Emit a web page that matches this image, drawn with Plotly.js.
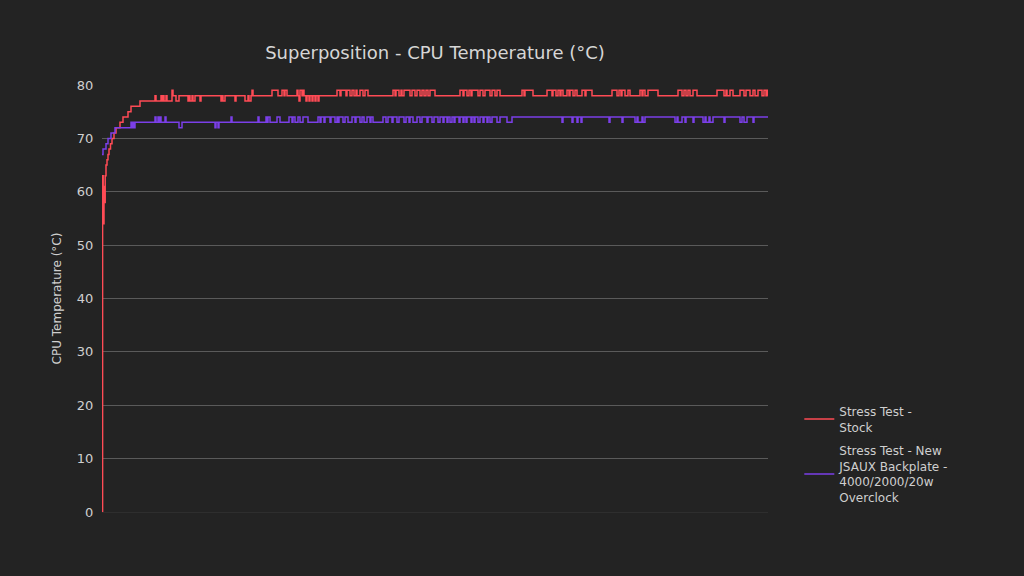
<!DOCTYPE html>
<html>
<head>
<meta charset="utf-8">
<script src="https://cdn.plot.ly/plotly-3.0.1.min.js"></script>
<style>
  html, body { margin: 0; padding: 0; background: #232323; }
  #chart { width: 1024px; height: 576px; }
</style>
</head>
<body>
<div id="chart"></div>
<script>
// Sample time (s) and CPU temperature (°C) at each change of reading
const stockTime = [
  0, 0.6, 1.2, 2, 2.6, 3.2, 4, 5, 6, 7, 8.5, 10, 12, 14, 18, 21, 26, 29, 38,
  53, 54, 59, 60, 61, 62, 64, 65, 70, 71, 74, 77, 86, 87, 88, 90, 91, 93, 98, 99,
  119, 120, 121, 123, 133, 134, 143, 146, 147, 149, 150, 151,
  170, 176, 180, 182, 183, 185,
  195, 196, 197, 198, 200, 201, 202, 204, 205, 207, 208, 210, 211, 213, 214, 216, 217,
  235, 238, 239, 244, 245, 248, 250, 252, 254, 255, 258, 261, 263, 266,
  291, 293, 294, 297, 299, 300, 302, 308, 310, 313, 315, 318, 320, 322, 324, 326, 328, 333,
  358, 361, 362, 365, 367, 369, 370, 376, 378, 381, 383, 388, 390, 393, 395, 398,
  420, 422, 423, 431,
  445, 450, 451, 454, 456, 458, 459, 461, 465, 467, 468, 471, 473, 475, 480, 483, 484, 490,
  510, 515, 517, 519, 520, 523, 526, 528,
  538, 540, 541, 543, 546, 556,
  576, 580, 582, 584, 586, 588, 591, 595,
  615, 622, 624, 625, 628, 631, 638, 642, 644, 648, 651, 653, 656, 660, 662, 664, 665, 666
];
const stockTemp = [
  0, 63, 54, 61, 58, 63, 65, 66, 67, 68, 69, 70, 71, 72, 73, 74, 75, 76, 77,
  78, 77, 78, 77, 78, 77, 78, 77, 79, 78, 77, 78, 77, 78, 77, 78, 77, 78, 77, 78,
  77, 78, 77, 78, 77, 78, 77, 78, 77, 78, 79, 78,
  79, 78, 79, 78, 79, 78,
  79, 78, 77, 79, 78, 79, 78, 77, 78, 77, 78, 77, 78, 77, 78, 77, 78,
  79, 78, 79, 78, 79, 78, 79, 78, 79, 78, 79, 78, 79, 78,
  79, 78, 79, 78, 79, 78, 79, 78, 79, 78, 79, 78, 79, 78, 79, 78, 79, 78,
  79, 78, 79, 78, 79, 78, 79, 78, 79, 78, 79, 78, 79, 78, 79, 78,
  79, 78, 79, 78,
  79, 78, 79, 78, 79, 78, 79, 78, 79, 78, 79, 78, 79, 78, 79, 78, 79, 78,
  79, 78, 79, 78, 79, 78, 79, 78,
  79, 78, 79, 78, 79, 78,
  79, 78, 79, 78, 79, 78, 79, 78,
  79, 78, 79, 78, 79, 78, 79, 78, 79, 78, 79, 78, 79, 78, 79, 78, 79, 78
];

const backplateTime = [
  0, 1, 4, 6, 9, 13, 29, 30, 31, 32, 33,
  53, 54, 56, 57, 58, 59, 63, 64, 77, 80, 113, 114, 116, 117, 129, 130,
  156, 157, 164, 165, 166, 168, 175, 178, 187, 190, 191, 193, 196, 198, 201, 206,
  216, 218, 219, 222, 223, 228, 229, 233, 235, 236, 237, 241, 243, 246,
  250, 253, 254, 258, 260, 262, 265, 268, 269, 271,
  281, 284, 286, 290, 291, 295, 297, 302, 304, 307, 308, 311,
  315, 318, 320, 325, 326, 330, 332, 336, 338, 341, 342,
  345, 346, 348, 350, 352, 353, 357, 358, 361, 362, 364, 365, 369, 370, 372, 373,
  376, 378, 381, 382, 385, 386, 388, 390, 395, 398, 405, 410,
  460, 461, 470, 471, 475, 476, 479, 480, 507, 508, 520, 521,
  533, 535, 536, 540, 541, 543, 573, 575, 576, 580, 583, 584, 591, 592,
  601, 603, 604, 607, 608, 611, 622, 623, 638, 640, 642, 645, 651, 652, 666
];
const backplateTemp = [
  67, 68, 69, 70, 71, 72, 73, 72, 73, 72, 73,
  74, 73, 74, 73, 74, 73, 74, 73, 72, 73, 72, 73, 72, 73, 74, 73,
  74, 73, 74, 73, 74, 73, 74, 73, 74, 73, 74, 73, 74, 73, 74, 73,
  74, 73, 74, 73, 74, 73, 74, 73, 74, 73, 74, 73, 74, 73,
  74, 73, 74, 73, 74, 73, 74, 73, 74, 73,
  74, 73, 74, 73, 74, 73, 74, 73, 74, 73, 74, 73,
  74, 73, 74, 73, 74, 73, 74, 73, 74, 73, 74,
  73, 74, 73, 74, 73, 74, 73, 74, 73, 74, 73, 74, 73, 74, 73, 74,
  73, 74, 73, 74, 73, 74, 73, 74, 73, 74, 73, 74,
  73, 74, 73, 74, 73, 74, 73, 74, 73, 74, 73, 74,
  73, 74, 73, 74, 73, 74, 73, 74, 73, 74, 73, 74, 73, 74,
  73, 74, 73, 74, 73, 74, 73, 74, 73, 74, 73, 74, 73, 74, 74
];

const seriesNames = [
  'Stress Test -<br>Stock',
  'Stress Test - New<br>JSAUX Backplate -<br>4000/2000/20w<br>Overclock'
];
const seriesColors = ['#ff4b55', '#7b3fe8'];
const yTicks = [0, 10, 20, 30, 40, 50, 60, 70, 80];

const traces = [
  { x: stockTime, y: stockTemp, name: seriesNames[0], legendgroup: 'stock' },
  { x: backplateTime, y: backplateTemp, name: seriesNames[1], legendgroup: 'backplate' }
].map((t, i) => ({
  ...t,
  type: 'scatter',
  mode: 'lines',
  line: { color: seriesColors[i], width: 1.5, shape: 'hv' }
}));

const layout = {
  width: 1024,
  height: 576,
  paper_bgcolor: '#232323',
  plot_bgcolor: '#232323',
  font: { family: 'DejaVu Sans, sans-serif', color: '#cfcfcf', size: 12 },
  margin: { l: 102, r: 256, t: 85, b: 64 },
  title: {
    text: 'Superposition - CPU Temperature (°C)',
    font: { size: 18, color: '#d6d6d6' },
    x: 0.5, xref: 'paper', xanchor: 'center',
    y: 0.908, yref: 'container', yanchor: 'middle'
  },
  xaxis: {
    range: [0, 666],
    showticklabels: false,
    showgrid: false,
    zeroline: false,
    showline: false,
    ticks: ''
  },
  yaxis: {
    range: [0, 80],
    tickvals: yTicks,
    ticks: 'outside',
    ticklen: 5,
    tickcolor: 'rgba(0,0,0,0)',
    gridcolor: '#5a5a5a',
    zeroline: true,
    zerolinecolor: '#2e2e2e',
    tickfont: { color: '#cfcfcf', size: 13 },
    title: { text: 'CPU Temperature (°C)', font: { size: 12, color: '#cfcfcf' }, standoff: 12 }
  },
  legend: {
    x: 1.047, xanchor: 'left',
    y: 0, yanchor: 'bottom',
    font: { size: 12, color: '#cfcfcf' },
    bgcolor: 'rgba(0,0,0,0)',
    tracegroupgap: 5
  },
  showlegend: true
};

Plotly.newPlot('chart', traces, layout, { displayModeBar: false, staticPlot: true });
</script>
</body>
</html>
